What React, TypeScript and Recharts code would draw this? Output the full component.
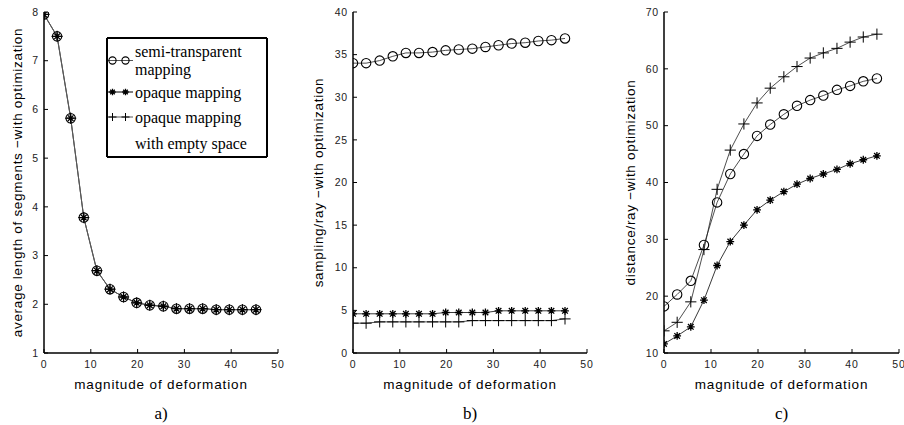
import React from 'react';
import { LineChart, Line, XAxis, YAxis } from 'recharts';

// ---------- data ----------
const magnitudes = [0, 2.8, 5.7, 8.5, 11.3, 14.1, 17.0, 19.8, 22.6, 25.5, 28.3, 31.1, 33.9, 36.8, 39.6, 42.4, 45.3];

// a) average length of segments
const segSemi = [7.95, 7.5, 5.82, 3.78, 2.69, 2.31, 2.15, 2.03, 1.98, 1.96, 1.91, 1.91, 1.91, 1.89, 1.89, 1.89, 1.89];
const segOpaque = [7.95, 7.5, 5.82, 3.78, 2.69, 2.31, 2.15, 2.03, 1.98, 1.96, 1.91, 1.91, 1.91, 1.89, 1.89, 1.89, 1.89];
const segEmpty = [7.95, 7.5, 5.82, 3.78, 2.69, 2.31, 2.15, 2.03, 1.98, 1.96, 1.91, 1.91, 1.91, 1.89, 1.89, 1.89, 1.89];

// b) sampling/ray
const sampSemi = [34.0, 34.0, 34.3, 34.8, 35.2, 35.2, 35.3, 35.5, 35.6, 35.7, 35.9, 36.1, 36.3, 36.4, 36.6, 36.7, 36.9];
const sampOpaque = [4.6, 4.6, 4.6, 4.6, 4.6, 4.6, 4.6, 4.75, 4.75, 4.75, 4.75, 4.95, 4.95, 4.95, 4.95, 4.95, 4.95];
const sampEmpty = [3.5, 3.5, 3.65, 3.65, 3.65, 3.65, 3.65, 3.65, 3.65, 3.8, 3.8, 3.8, 3.8, 3.8, 3.8, 3.8, 4.0];

// c) distance/ray
const distSemi = [18.2, 20.3, 22.7, 29.0, 36.5, 41.5, 45.0, 48.2, 50.2, 52.0, 53.5, 54.5, 55.3, 56.3, 57.0, 57.8, 58.3];
const distOpaque = [11.6, 13.0, 14.6, 19.3, 25.4, 29.6, 32.5, 35.2, 36.9, 38.4, 39.7, 40.7, 41.5, 42.3, 43.3, 44.0, 44.7];
const distEmpty = [13.9, 15.4, 19.0, 28.2, 38.8, 45.7, 50.3, 54.0, 56.6, 58.6, 60.4, 61.9, 62.8, 63.6, 64.7, 65.6, 66.1];

const seriesNames = ['semi-transparent mapping', 'opaque mapping', 'opaque mapping with empty space'];
const xTicks = [0, 10, 20, 30, 40, 50];
const yTicksA = [1, 2, 3, 4, 5, 6, 7, 8];
const yTicksB = [0, 5, 10, 15, 20, 25, 30, 35, 40];
const yTicksC = [10, 20, 30, 40, 50, 60, 70];
const xTitle = 'magnitude of deformation';
const yTitles = [
  'average length of segments \u2212with optimization',
  'sampling/ray \u2212with optimization',
  'distance/ray \u2212with optimization',
];
const captions = ['a)', 'b)', 'c)'];

const build = (semi: number[], opaque: number[], empty: number[]) =>
  magnitudes.map((m, i) => ({ x: m, semi: semi[i], opaque: opaque[i], empty: empty[i] }));

// ---------- markers ----------
const SANS = '"Liberation Sans", Arial, sans-serif';
const SERIF = '"Liberation Serif", "Times New Roman", serif';

const circlePath = (cx: number, cy: number, r: number) => (
  <circle cx={cx} cy={cy} r={r} fill="none" stroke="#000" strokeWidth={1.1} />
);
const starPath = (cx: number, cy: number, s: number) => {
  const d = s * 0.72;
  return (
    <path
      d={`M${cx - s},${cy}H${cx + s}M${cx},${cy - s}V${cy + s}M${cx - d},${cy - d}L${cx + d},${cy + d}M${cx - d},${cy + d}L${cx + d},${cy - d}`}
      stroke="#000"
      strokeWidth={1.3}
      fill="none"
    />
  );
};
const plusPath = (cx: number, cy: number, s: number) => (
  <path d={`M${cx - s},${cy}H${cx + s}M${cx},${cy - s}V${cy + s}`} stroke="#000" strokeWidth={1} fill="none" />
);

const CircleDot = (p: any) => <g key={`c${p.index}`}>{circlePath(p.cx, p.cy, 4.7)}</g>;
const StarDot = (p: any) => <g key={`s${p.index}`}>{starPath(p.cx, p.cy, 3.9)}</g>;
const PlusDot = (p: any) => <g key={`p${p.index}`}>{plusPath(p.cx, p.cy, 5.6)}</g>;

// ---------- legend (panel a) ----------
const LegendBox = () => (
  <svg width={164} height={123} style={{ position: 'absolute', left: 105, top: 36, display: 'block', zIndex: 2 }}>
    <path d="M2,2H162V121H2Z" fill="#fff" stroke="none" />
    <path d="M2,2H162M162,2V121M162,121H2M2,121V2" fill="none" stroke="#000" strokeWidth={2} />
    <g fontFamily={SERIF} fontSize={16} fill="#000">
      <text x={30} y={15} dominantBaseline="central">semi-transparent</text>
      <text x={30} y={33.5} dominantBaseline="central">mapping</text>
      <text x={30} y={56} dominantBaseline="central">opaque mapping</text>
      <text x={30} y={81} dominantBaseline="central">opaque mapping</text>
      <text x={30} y={107} dominantBaseline="central">with empty space</text>
    </g>
    <line x1={3} x2={28} y1={24.5} y2={24.5} stroke="#555" strokeWidth={1} />
    {circlePath(7.5, 24.5, 3.6)}
    {circlePath(20.5, 24.5, 3.6)}
    <line x1={3} x2={28} y1={56} y2={56} stroke="#000" strokeWidth={1} />
    {starPath(7.5, 56, 3.2)}
    {starPath(20.5, 56, 3.2)}
    <line x1={3} x2={28} y1={81} y2={81} stroke="#555" strokeWidth={1} />
    {plusPath(7.5, 81, 4)}
    {plusPath(20.5, 81, 4)}
  </svg>
);

// ---------- panel ----------
type PanelProps = {
  idx: number;
  left: number;
  width: number;
  plotLeft: number;
  plotRight: number;
  yTitleX: number;
  data: any[];
  yDomain: [number, number];
  yTicks: number[];
  legend?: boolean;
  lineColor: string;
};

const TOP = 12;
const BOTTOM = 353;
const H = 425;

function Panel({ idx, left, width, plotLeft, plotRight, yTitleX, data, yDomain, yTicks, legend, lineColor }: PanelProps) {
  const yAxisWidth = plotLeft - left;
  const marginRight = left + width - plotRight;
  const plotCenterX = (plotLeft + plotRight) / 2 - left;
  const plotCenterY = (TOP + BOTTOM) / 2;
  const tickStyle = { fill: '#222', fontSize: 10.5, fontFamily: SANS, letterSpacing: 0.8 };
  const axisLine = { stroke: '#000', strokeWidth: 1.5 };
  const frameLine = { stroke: '#000', strokeWidth: 1.2 };
  const tickLine = { stroke: '#000', strokeWidth: 1 };

  const xLabel = () => (
    <g>
      <text
        x={plotCenterX}
        y={384}
        textAnchor="middle"
        dominantBaseline="central"
        fontFamily={SANS}
        fontSize={13.5}
        letterSpacing={0.85}
        fill="#000"
      >
        {xTitle}
      </text>
      <text x={plotCenterX} y={413} textAnchor="middle" dominantBaseline="central" fontFamily={SERIF} fontSize={17} fill="#000">
        {captions[idx]}
      </text>
    </g>
  );
  const yLabel = () => (
    <text
      x={yTitleX}
      y={plotCenterY}
      transform={`rotate(-90 ${yTitleX} ${plotCenterY})`}
      textAnchor="middle"
      dominantBaseline="central"
      fontFamily={SANS}
      fontSize={13.5}
      letterSpacing={0.7}
      fill="#000"
    >
      {yTitles[idx]}
    </text>
  );

  return (
    <div style={{ position: 'absolute', left, top: 0, width, height: H }}>
      <LineChart width={width} height={H} data={data} margin={{ top: TOP, right: marginRight, left: 0, bottom: H - BOTTOM - 30 }}>
        <XAxis
          dataKey="x"
          type="number"
          domain={[0, 50]}
          ticks={xTicks}
          interval={0}
          allowDataOverflow
          height={30}
          tickSize={-4}
          tickMargin={12}
          tick={tickStyle}
          axisLine={axisLine}
          tickLine={tickLine}
          label={xLabel}
        />
        <XAxis
          xAxisId="top"
          orientation="top"
          type="number"
          domain={[0, 50]}
          ticks={xTicks}
          interval={0}
          allowDataOverflow
          height={0}
          tickSize={-4}
          tick={false}
          axisLine={frameLine}
          tickLine={tickLine}
        />
        <YAxis
          type="number"
          domain={yDomain}
          ticks={yTicks}
          interval={0}
          allowDataOverflow
          width={yAxisWidth}
          tickSize={-4}
          tickMargin={9}
          tick={tickStyle}
          axisLine={axisLine}
          tickLine={tickLine}
          label={yLabel}
        />
        <YAxis
          yAxisId="r"
          orientation="right"
          type="number"
          domain={yDomain}
          ticks={yTicks}
          interval={0}
          allowDataOverflow
          width={0}
          tickSize={-4}
          tick={false}
          axisLine={frameLine}
          tickLine={tickLine}
        />
        <Line
          name={seriesNames[2]}
          dataKey="empty"
          stroke={lineColor}
          strokeWidth={0.8}
          dot={PlusDot}
          activeDot={false}
          isAnimationActive={false}
        />
        <Line
          name={seriesNames[1]}
          dataKey="opaque"
          stroke={lineColor}
          strokeWidth={0.9}
          dot={StarDot}
          activeDot={false}
          isAnimationActive={false}
        />
        <Line
          name={seriesNames[0]}
          dataKey="semi"
          stroke={lineColor}
          strokeWidth={0.8}
          dot={CircleDot}
          activeDot={false}
          isAnimationActive={false}
        />
      </LineChart>
      {legend && <LegendBox />}
    </div>
  );
}

export default function App() {
  return (
    <div style={{ position: 'absolute', left: 0, top: 0, width: 904, height: 425, background: '#fff', overflow: 'hidden' }}>
      <Panel
        idx={0}
        left={0}
        width={290}
        plotLeft={44}
        plotRight={278}
        yTitleX={17.5}
        data={build(segSemi, segOpaque, segEmpty)}
        yDomain={[1, 8]}
        yTicks={yTicksA}
        legend
        lineColor="#555"
      />
      <Panel
        idx={1}
        left={300}
        width={295}
        plotLeft={353}
        plotRight={587}
        yTitleX={18}
        data={build(sampSemi, sampOpaque, sampEmpty)}
        yDomain={[0, 40]}
        yTicks={yTicksB}
        lineColor="#222"
      />
      <Panel
        idx={2}
        left={600}
        width={304}
        plotLeft={664}
        plotRight={899}
        yTitleX={30}
        data={build(distSemi, distOpaque, distEmpty)}
        yDomain={[10, 70]}
        yTicks={yTicksC}
        lineColor="#222"
      />
    </div>
  );
}
